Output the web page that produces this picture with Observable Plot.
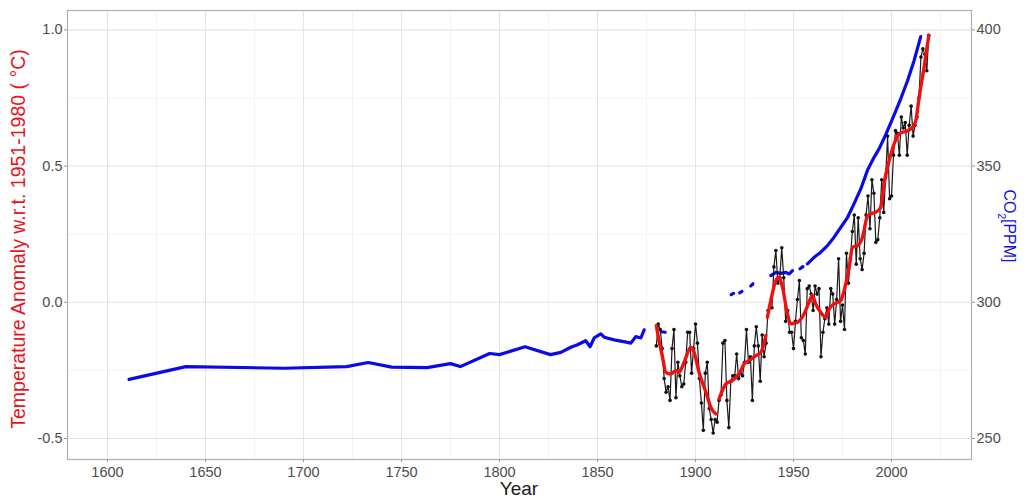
<!DOCTYPE html>
<html><head><meta charset="utf-8">
<script src="https://cdn.jsdelivr.net/npm/d3@7"></script>
<script src="https://cdn.jsdelivr.net/npm/@observablehq/plot@0.6"></script>
<style>body{margin:0;background:#fff}</style>
</head><body><div id="chart"></div>
<script>
// ---------- data ----------
const xTicks = [1600, 1650, 1700, 1750, 1800, 1850, 1900, 1950, 2000];
const xMinor = [1625, 1675, 1725, 1775, 1825, 1875, 1925, 1975, 2025];
const tempTicks = [-0.5, 0, 0.5, 1.0];
const tempMinor = [-0.25, 0.25, 0.75];
const co2Ticks = [250, 300, 350, 400];

// annual temperature anomaly, first year 1880
const tempFirstYear = 1880;
const tempAnnual = [
 -0.16,-0.08,-0.10,-0.17,-0.28,-0.33,-0.31,-0.36,-0.17,-0.10,
 -0.35,-0.22,-0.27,-0.31,-0.30,-0.22,-0.11,-0.11,-0.26,-0.17,
 -0.08,-0.15,-0.28,-0.37,-0.47,-0.26,-0.22,-0.39,-0.43,-0.48,
 -0.43,-0.44,-0.36,-0.34,-0.15,-0.14,-0.36,-0.46,-0.29,-0.27,
 -0.27,-0.19,-0.28,-0.26,-0.27,-0.22,-0.10,-0.22,-0.20,-0.36,
 -0.16,-0.09,-0.16,-0.29,-0.12,-0.20,-0.15,-0.03,-0.02,-0.02,
  0.13, 0.19, 0.07, 0.09, 0.20, 0.09,-0.07,-0.03,-0.11,-0.11,
 -0.17,-0.07, 0.01, 0.08,-0.13,-0.14,-0.19, 0.05, 0.06, 0.03,
 -0.03, 0.06, 0.03, 0.05,-0.20,-0.11,-0.06,-0.02,-0.08, 0.05,
  0.03,-0.08, 0.01, 0.16,-0.07,-0.01,-0.10, 0.18, 0.07, 0.16,
  0.26, 0.32, 0.14, 0.31, 0.16, 0.12, 0.18, 0.32, 0.39, 0.27,
  0.45, 0.40, 0.22, 0.23, 0.31, 0.45, 0.33, 0.46, 0.61, 0.38,
  0.39, 0.54, 0.63, 0.62, 0.54, 0.68, 0.64, 0.66, 0.54, 0.65,
  0.72, 0.61, 0.65, 0.68, 0.75, 0.90, 0.93, 0.91, 0.85, 0.98
];

// smoothed temperature (red), in segments
const smoothYear = [1880,1881.4,1883.2,1884.8,1887.4,1890,1891.6,1894.2,1897.6,1899.3,1901.8,1905.3,1907.8,1910.4,
  1912,1915.5,1918.9,1921.4,1923.1,1924.8,1927.3,1930.8,1933.3,1935.9,
  1936.7,1938.4,1941,1942.6,1944.4,1946.9,1948.6,1952,1955.4,1957.9,1959.6,1961.3,1963.9,1966.4,1968.2,1970.7,1974.1,1975.8,1978.4,1980.1,1982.7,1985.2,1987.8,1990.3,1992.9,1994.5,1996.2,1998.8,2001.3,2003.9,2008.2,2010.7,2012.4,2014.1,2016.6,2019];
const smoothTemp = [-0.085,-0.141,-0.202,-0.257,-0.263,-0.251,-0.257,-0.220,-0.165,-0.184,-0.257,-0.330,-0.386,-0.41,
  -0.355,-0.30,-0.287,-0.269,-0.251,-0.226,-0.214,-0.196,-0.184,-0.122,
  -0.055,0.006,0.080,0.092,0.055,-0.043,-0.079,-0.073,-0.043,0.0,0.025,-0.006,-0.037,-0.055,-0.024,-0.006,0.006,0.043,0.128,0.202,0.208,0.239,0.318,0.327,0.335,0.349,0.435,0.520,0.581,0.618,0.630,0.642,0.667,0.753,0.863,0.979];
const smoothSeg = [1,1,1,1,1,1,1,1,1,1,1,1,1,1, 2,2,2,2,2,2,2,2,2,2,
  3,3,3,3,3,3,3,3,3,3,3,3,3,3,3,3,3,3,3,3,3,3,3,3,3,3,3,3,3,3,3,3,3,3,3,3];

// CO2 (ppm), in segments
const co2Year = [1611,1640,1690,1722,1733,1745,1763,1775,1780,1795,1800,1813,1826,1831.3,1836.4,1839.8,1844,1846.2,1848.3,1851.7,1853.4,1858.5,1865.3,1867,1869.5,1872.1,1873.8,
  1882.5,1884.5,
  1918.2,1919.4,
  1922.5,1923.7,
  1928.2,1929.3,
  1938.4,1941,1943.5,1946.1,1947.8,1949.5,
  1953.3,1954.8,
  1957.1,1960.5,1963.9,1967.3,1970.7,1974.1,1977.6,1980.9,1984.3,1987.8,1991.1,1993.7,1997.1,2000.5,2004.7,2008.2,2011.5,2014.9];
const co2Ppm = [271.7,276.4,275.8,276.4,277.9,276.2,276.0,277.5,276.4,281.2,280.8,283.7,280.8,281.6,283.5,284.4,285.9,283.7,286.9,288.4,287.2,286.2,285.3,285.0,287.4,286.9,289.9,
  289.2,289.0,
  302.8,303.3,
  303.5,304.0,
  306.0,306.8,
  309.8,311.0,310.6,311.0,310.4,311.6,
  312.3,313.1,
  314.1,316.5,318.4,320.8,323.9,327.5,331.2,336.2,341.6,348.6,353.2,356.4,361.6,367.3,374.7,381.4,388.7,397.5];
const co2Seg = [1,1,1,1,1,1,1,1,1,1,1,1,1,1,1,1,1,1,1,1,1,1,1,1,1,1,1,
  2,2, 3,3, 4,4, 5,5, 6,6,6,6,6,6, 7,7,
  8,8,8,8,8,8,8,8,8,8,8,8,8,8,8,8,8,8];

// ---------- build ----------
const toTemp = ppm => (ppm - 300) / 100;
const temp = tempAnnual.map((v, i) => ({year: tempFirstYear + i, v}));
const smooth = smoothYear.map((y, i) => ({year: y, v: smoothTemp[i], s: smoothSeg[i]}));
const co2 = co2Year.map((y, i) => ({year: y, v: toTemp(co2Ppm[i]), s: co2Seg[i]}));

const gridC = "#ebebeb";
const plot = Plot.plot({
  width: 1027, height: 499,
  marginLeft: 67, marginRight: 56, marginTop: 10, marginBottom: 40,
  style: {fontFamily: "'Liberation Sans', Arial, sans-serif", fontSize: "14.5px", color: "#4d4d4d", background: "#fff", overflow: "visible"},
  x: {domain: [1579.6, 2040.8]},
  y: {domain: [-0.577, 1.071]},
  marks: [
    Plot.gridX(xMinor, {stroke: gridC, strokeOpacity: 1, strokeWidth: 0.6}),
    Plot.gridY(tempMinor, {stroke: gridC, strokeOpacity: 1, strokeWidth: 0.6}),
    Plot.gridX(xTicks, {stroke: "#e4e4e4", strokeOpacity: 1, strokeWidth: 1.1}),
    Plot.gridY(tempTicks, {stroke: "#e4e4e4", strokeOpacity: 1, strokeWidth: 1.1}),
    Plot.frame({stroke: "#b0b0b0", strokeWidth: 1.2}),
    Plot.axisX(xTicks, {tickSize: 3, tickPadding: 4, stroke: "#999", fill: "#4d4d4d", tickFormat: d => String(d), label: null}),
    Plot.axisY(tempTicks, {anchor: "left", tickSize: 3, tickPadding: 2, stroke: "#999", fill: "#4d4d4d", tickFormat: d => d.toFixed(1), label: null}),
    Plot.axisY(co2Ticks.map(toTemp), {anchor: "right", tickSize: 3, tickPadding: 2, stroke: "#999", fill: "#4d4d4d", tickFormat: d => String(Math.round(300 + 100 * d)), label: null}),
    Plot.line(co2, {x: "year", y: "v", z: "s", stroke: "#0a0ae6", strokeWidth: 3.2}),
    Plot.line(temp, {x: "year", y: "v", stroke: "#1a1a1a", strokeWidth: 1.2}),
    Plot.dot(temp, {x: "year", y: "v", r: 1.8, fill: "#111", stroke: null}),
    Plot.line(smooth, {x: "year", y: "v", z: "s", stroke: "#f01010", strokeWidth: 3.4, curve: "monotone-x"})
  ]
});
document.getElementById("chart").appendChild(plot);

// axis titles
const svg = d3.select(plot);
svg.append("text")
  .attr("transform", "translate(25,239) rotate(-90)")
  .attr("text-anchor", "middle")
  .attr("fill", "#e8141c")
  .style("font-size", "19.5px")
  .text("Temperature Anomaly w.r.t. 1951-1980 ( °C)");
const co2t = svg.append("text")
  .attr("transform", "translate(1004,226) rotate(90)")
  .attr("text-anchor", "middle")
  .attr("fill", "#1010e0")
  .style("font-size", "16px");
co2t.append("tspan").text("CO");
co2t.append("tspan").attr("baseline-shift", "sub").style("font-size", "10px").text("2");
co2t.append("tspan").text("[PPM]");
svg.append("text")
  .attr("x", 519).attr("y", 495)
  .attr("text-anchor", "middle")
  .attr("fill", "#1a1a1a")
  .style("font-size", "19px")
  .text("Year");
</script>
</body></html>
